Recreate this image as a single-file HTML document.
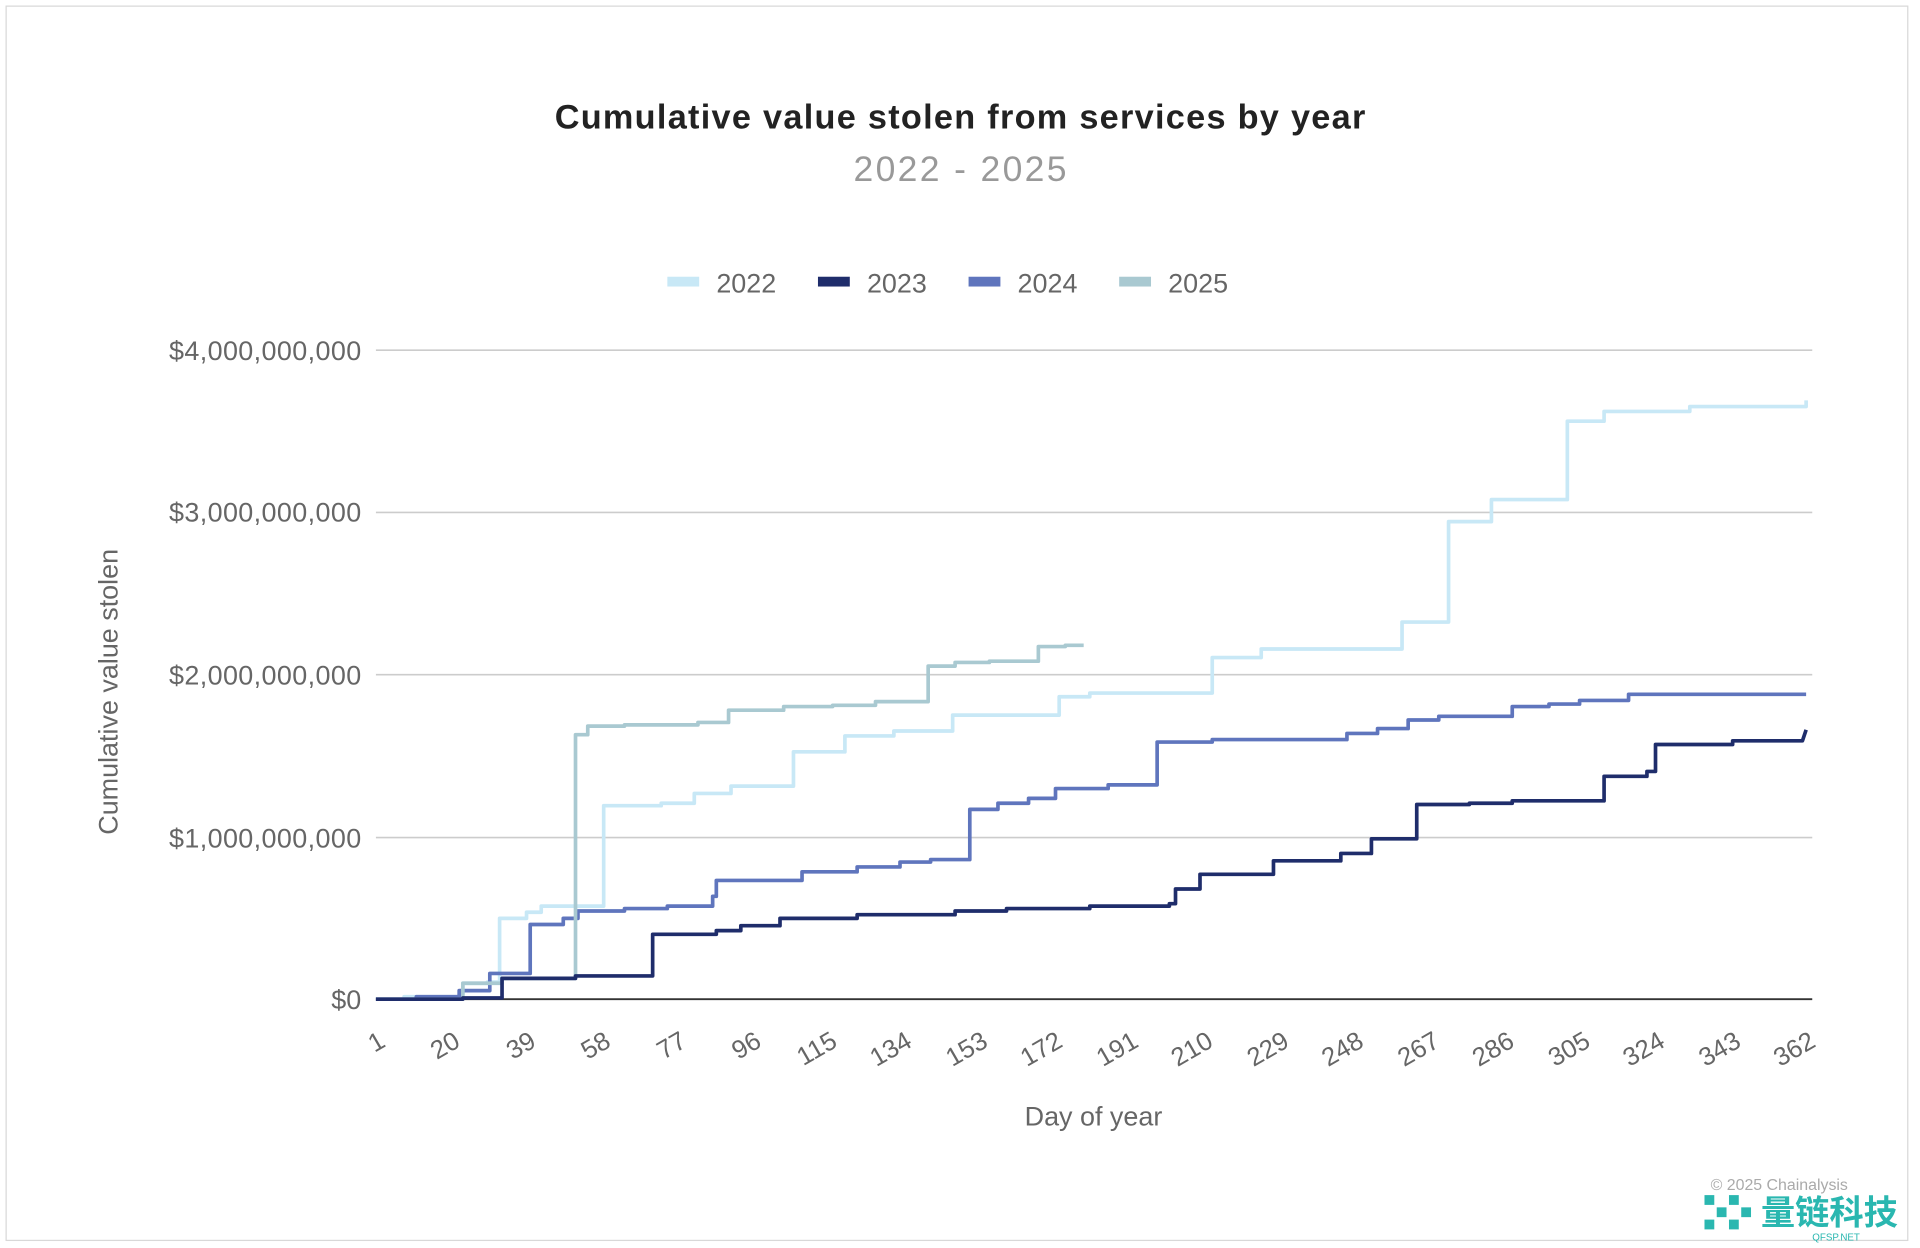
<!DOCTYPE html>
<html><head><meta charset="utf-8"><style>
html,body{margin:0;padding:0;background:#fff;}
svg{display:block;}
text{font-family:"Liberation Sans","Noto Sans CJK SC",sans-serif;}
</style></head><body>
<svg width="1920" height="1248" viewBox="0 0 1568 1019.2" xmlns="http://www.w3.org/2000/svg">
<rect x="0" y="0" width="1568" height="1019.2" fill="#fff"/>
<rect x="5" y="5" width="1553" height="1008" fill="none" stroke="#d8d8d8" stroke-width="1"/>
<text x="784" y="105" text-anchor="middle" font-size="28" font-weight="bold" fill="#222" textLength="662">Cumulative value stolen from services by year</text>
<text x="784" y="148" text-anchor="middle" font-size="29" fill="#999" textLength="174">2022 - 2025</text>
<g font-size="22" fill="#666">
<rect x="545" y="226" width="26" height="8" fill="#c8e8f6"/><text x="585" y="239">2022</text>
<rect x="668" y="226" width="26" height="8" fill="#1f2d6b"/><text x="708" y="239">2023</text>
<rect x="791" y="226" width="26" height="8" fill="#5f75bd"/><text x="831" y="239">2024</text>
<rect x="914" y="226" width="26" height="8" fill="#a9c9d1"/><text x="954" y="239">2025</text>
</g>
<g stroke="#ccc" stroke-width="1.3">
<line x1="307" y1="286" x2="1480" y2="286"/>
<line x1="307" y1="418.5" x2="1480" y2="418.5"/>
<line x1="307" y1="551" x2="1480" y2="551"/>
<line x1="307" y1="684" x2="1480" y2="684"/>
</g>
<line x1="307" y1="816" x2="1480" y2="816" stroke="#333" stroke-width="1.5"/>
<g font-size="22" fill="#666" text-anchor="end">
<text x="295" y="294" textLength="157">$4,000,000,000</text>
<text x="295" y="426" textLength="157">$3,000,000,000</text>
<text x="295" y="559" textLength="157">$2,000,000,000</text>
<text x="295" y="692" textLength="157">$1,000,000,000</text>
<text x="295" y="824">$0</text>
</g>
<g font-size="21" fill="#666" text-anchor="end">
<text transform="translate(316,854) rotate(-30)">1</text>
<text transform="translate(377,854) rotate(-30)">20</text>
<text transform="translate(439,854) rotate(-30)">39</text>
<text transform="translate(500,854) rotate(-30)">58</text>
<text transform="translate(562,854) rotate(-30)">77</text>
<text transform="translate(623,854) rotate(-30)">96</text>
<text transform="translate(685,854) rotate(-30)">115</text>
<text transform="translate(746,854) rotate(-30)">134</text>
<text transform="translate(808,854) rotate(-30)">153</text>
<text transform="translate(869,854) rotate(-30)">172</text>
<text transform="translate(931,854) rotate(-30)">191</text>
<text transform="translate(992,854) rotate(-30)">210</text>
<text transform="translate(1054,854) rotate(-30)">229</text>
<text transform="translate(1115,854) rotate(-30)">248</text>
<text transform="translate(1177,854) rotate(-30)">267</text>
<text transform="translate(1238,854) rotate(-30)">286</text>
<text transform="translate(1300,854) rotate(-30)">305</text>
<text transform="translate(1361,854) rotate(-30)">324</text>
<text transform="translate(1423,854) rotate(-30)">343</text>
<text transform="translate(1484,854) rotate(-30)">362</text>
</g>
<text x="893" y="919" text-anchor="middle" font-size="22" fill="#666">Day of year</text>
<text transform="translate(96,565) rotate(-90)" text-anchor="middle" font-size="22" fill="#666">Cumulative value stolen</text>
<g fill="none" stroke-width="3" stroke-linejoin="round">
<path stroke="#c8e8f6" d="M307,816 H330 V814 H375 V812 H378 V803 H398 V802 H408 V750 H430 V745 H442 V740 H493 V658 H540 V656 H567 V648 H597 V642 H648 V614 H690 V601 H730 V597 H778 V584 H865 V569 H890 V566 H990 V537 H1030 V530 H1145 V508 H1183 V426 H1218 V408 H1280 V344 H1310 V336 H1380 V332 H1475 V327"/>
<path stroke="#5f75bd" d="M307,816 H340 V814 H375 V809 H400 V795 H433 V755 H460 V750 H472 V744 H510 V742 H545 V740 H582 V732 H585 V719 H655 V712 H700 V708 H735 V704 H760 V702 H792 V661 H815 V656 H840 V652 H862 V644 H905 V641 H945 V606 H990 V604 H1100 V599 H1125 V595 H1150 V588 H1175 V585 H1235 V577 H1265 V575 H1290 V572 H1330 V567 H1475"/>
<path stroke="#a9c9d1" d="M307,816 H378 V803 H410 V799 H470 V600 H480 V593 H510 V592 H570 V590 H595 V580 H640 V577 H680 V576 H715 V573 H758 V544 H780 V541 H808 V540 H848 V528 H870 V527 H885"/>
<path stroke="#1f2d6b" d="M307,816 H378 V815 H410 V799 H470 V797 H533 V763 H585 V760 H605 V756 H637 V750 H700 V747 H780 V744 H822 V742 H890 V740 H955 V738 H960 V726 H980 V714 H1040 V703 H1095 V697 H1120 V685 H1157 V657 H1200 V656 H1235 V654 H1310 V634 H1345 V630 H1352 V608 H1415 V605 H1472 L1475,596"/>
</g>
<text x="1397" y="972" font-size="13" fill="#aaa">© 2025 Chainalysis</text>
<g fill="#2ab7b0">
<rect x="1392" y="976" width="8" height="8"/><rect x="1402" y="986" width="8" height="8"/><rect x="1392" y="996" width="8" height="8"/><rect x="1412" y="976" width="8" height="8"/><rect x="1412" y="996" width="8" height="8"/><rect x="1422" y="986" width="8" height="8"/>
</g>
<text x="1438" y="1000" font-size="28" font-weight="bold" fill="#2ab7b0" font-family="'Noto Sans CJK SC',sans-serif">量链科技</text>
<text x="1480" y="1013" font-size="8" fill="#2ab7b0">QFSP.NET</text>
</svg>
</body></html>
